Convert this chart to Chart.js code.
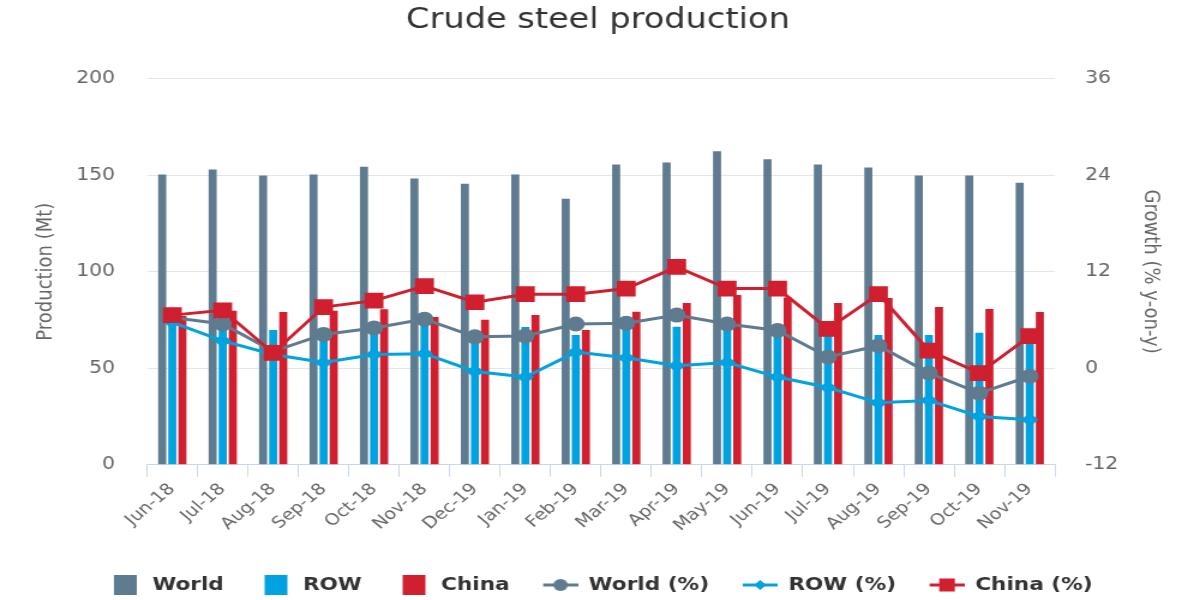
<!DOCTYPE html>
<html>
<head>
<meta charset="utf-8">
<script src="https://cdn.jsdelivr.net/npm/chart.js@4/dist/chart.umd.min.js"></script>
<style>
html, body { margin: 0; padding: 0; background: #fff; overflow: hidden; }
</style>
</head>
<body>
<!-- drawn at 1000 wide, shown stretched to 1200 like the original graphic -->
<canvas id="steelChart" width="1000" height="600" style="width:1200px;height:600px;display:block"></canvas>
<script>
const months = ['Jun-18', 'Jul-18', 'Aug-18', 'Sep-18', 'Oct-18', 'Nov-18', 'Dec-19', 'Jan-19', 'Feb-19',
    'Mar-19', 'Apr-19', 'May-19', 'Jun-19', 'Jul-19', 'Aug-19', 'Sep-19', 'Oct-19', 'Nov-19'];

// production, Mt
const worldMt = [150.3, 152.9, 149.8, 150.3, 154.4, 148.2, 145.6, 150.3, 137.8, 155.5, 156.5, 162.4, 158.2, 155.5, 153.9, 149.8, 149.8, 146.1];
const rowMt = [73.5, 71, 69.8, 68.5, 71, 71.8, 69.8, 71.4, 67.2, 72.7, 71.5, 72.7, 68.5, 67.5, 67.2, 67.2, 68.4, 65];
const chinaMt = [77, 79.7, 79.1, 79.7, 80.5, 76.5, 75.1, 77.6, 69.8, 79.3, 83.8, 87.9, 86.6, 83.8, 86.4, 81.7, 80.7, 79.1];

// growth, % y-on-y
const worldPct = [6.3, 5.5, 2.1, 4.2, 5.0, 6.1, 3.9, 4.0, 5.5, 5.6, 6.6, 5.5, 4.7, 1.4, 2.8, -0.6, -3.1, -1.0];
const rowPct = [5.7, 3.4, 1.7, 0.7, 1.7, 1.8, -0.4, -1.1, 2.0, 1.3, 0.3, 0.7, -1.1, -2.4, -4.3, -4.0, -6.0, -6.4];
const chinaPct = [6.6, 7.2, 1.9, 7.6, 8.4, 10.2, 8.2, 9.2, 9.2, 9.9, 12.6, 9.9, 9.9, 4.9, 9.2, 2.2, -0.6, 4.0];

const FONT = 'DejaVu Sans';
const GREY = '#5e7b8f';
const BLUE = '#00a3e0';
const RED = '#d01f2e';

// legend icons (32 wide so every legend item lines up)
function barIcon(color) {
    const c = document.createElement('canvas');
    c.width = 32; c.height = 20;
    const ctx = c.getContext('2d');
    ctx.fillStyle = color;
    ctx.fillRect(9, 0, 19, 20);
    return c;
}

function lineIcon(color, shape) {
    const c = document.createElement('canvas');
    c.width = 32; c.height = 20;
    const ctx = c.getContext('2d');
    ctx.strokeStyle = color;
    ctx.fillStyle = color;
    ctx.lineWidth = 3;
    ctx.beginPath();
    ctx.moveTo(3, 10);
    ctx.lineTo(32, 10);
    ctx.stroke();
    ctx.beginPath();
    if (shape === 'circle') {
        ctx.arc(17.5, 10, 6, 0, Math.PI * 2);
    } else if (shape === 'diamond') {
        ctx.moveTo(17.5, 5); ctx.lineTo(22.5, 10); ctx.lineTo(17.5, 15); ctx.lineTo(12.5, 10);
        ctx.closePath();
    } else {
        ctx.rect(11, 3.5, 13, 13);
    }
    ctx.fill();
    return c;
}

const icons = [barIcon(GREY), barIcon(BLUE), barIcon(RED),
    lineIcon(GREY, 'circle'), lineIcon(BLUE, 'diamond'), lineIcon(RED, 'square')];

const barOpts = { yAxisID: 'y', categoryPercentage: 0.6, barPercentage: 0.8, order: 4 };
const lineOpts = { type: 'line', yAxisID: 'y1', borderWidth: 3, tension: 0, fill: false };

new Chart(document.getElementById('steelChart'), {
    type: 'bar',
    data: {
        labels: months,
        datasets: [
            { ...barOpts, label: 'World', data: worldMt, backgroundColor: GREY },
            { ...barOpts, label: 'ROW', data: rowMt, backgroundColor: BLUE },
            { ...barOpts, label: 'China', data: chinaMt, backgroundColor: RED },
            { ...lineOpts, label: 'World (%)', data: worldPct, borderColor: GREY, backgroundColor: GREY,
                pointStyle: 'circle', pointRadius: 6, order: 3 },
            { ...lineOpts, label: 'ROW (%)', data: rowPct, borderColor: BLUE, backgroundColor: BLUE,
                pointStyle: 'rectRot', pointRadius: 5, order: 2 },
            { ...lineOpts, label: 'China (%)', data: chinaPct, borderColor: RED, backgroundColor: RED,
                pointStyle: 'rect', pointRadius: 9, order: 1 }
        ]
    },
    options: {
        responsive: false,
        animation: false,
        devicePixelRatio: 1,
        layout: { padding: { left: 27.5, right: 31, top: 0, bottom: -4 } },
        plugins: {
            tooltip: { enabled: false },
            title: {
                display: true,
                text: 'Crude steel production',
                color: '#333',
                font: { family: FONT, size: 28, weight: 'normal' },
                padding: { top: 4, bottom: 41 }
            },
            legend: {
                position: 'bottom',
                labels: {
                    usePointStyle: true,
                    pointStyleWidth: 32,
                    padding: 25,
                    color: '#333',
                    font: { family: FONT, size: 18, weight: 'bold' },
                    generateLabels: (chart) => chart.data.datasets.map((ds, i) => ({
                        text: ds.label,
                        fillStyle: ds.backgroundColor,
                        strokeStyle: ds.borderColor || ds.backgroundColor,
                        lineWidth: 0,
                        pointStyle: icons[i],
                        fontColor: '#333',
                        hidden: false,
                        datasetIndex: i
                    }))
                }
            }
        },
        scales: {
            x: {
                offset: true,
                grid: { offset: true, drawOnChartArea: false, color: '#ccd6eb', tickLength: 12 },
                border: { color: '#ccd6eb' },
                ticks: {
                    maxRotation: 45, minRotation: 45, autoSkip: false,
                    color: '#666', font: { family: FONT, size: 16 }
                },
                afterFit: (scale) => { scale.height += 13; }
            },
            y: {
                position: 'left',
                min: 0, max: 200,
                ticks: { stepSize: 50, padding: 0, color: '#666', font: { family: FONT, size: 17 } },
                grid: { color: '#e6e6e6', drawTicks: true, tickLength: 26.7, tickColor: 'transparent' },
                border: { display: false },
                title: {
                    display: true, text: 'Production (Mt)', color: '#666',
                    font: { family: FONT, size: 18 }, padding: { top: 0, bottom: 14.3 }
                }
            },
            y1: {
                position: 'right',
                min: -12, max: 36,
                ticks: { stepSize: 12, padding: 0, color: '#666', font: { family: FONT, size: 17 } },
                grid: { drawOnChartArea: false, drawTicks: true, tickLength: 25, tickColor: 'transparent' },
                border: { display: false },
                title: {
                    display: true, text: 'Growth (% y-on-y)', color: '#666',
                    font: { family: FONT, size: 18 }, padding: { top: 0, bottom: 15.5 }
                }
            }
        }
    }
});
</script>
</body>
</html>
